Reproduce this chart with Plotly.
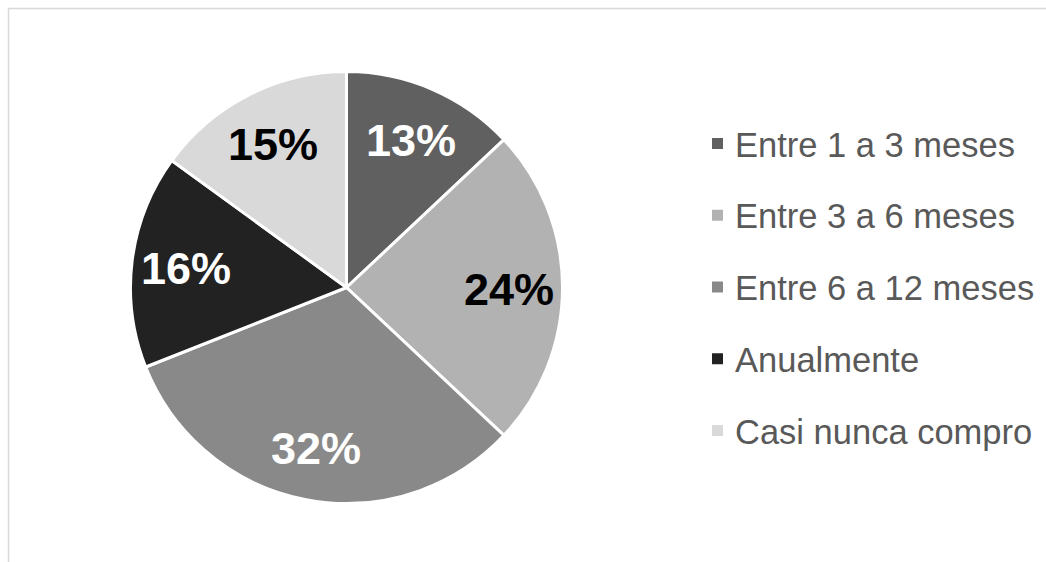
import math
import plotly.graph_objects as go

# Purchase frequency shares (percent)
categories = ["Entre 1 a 3 meses", "Entre 3 a 6 meses", "Entre 6 a 12 meses",
              "Anualmente", "Casi nunca compro"]
shares = [13, 24, 32, 16, 15]

# Grey palette and label colours per slice
slice_colors = ["#606060", "#b2b2b2", "#898989", "#222222", "#d9d9d9"]
label_colors = ["#ffffff", "#000000", "#ffffff", "#ffffff", "#000000"]

W, H = 1046, 562
cx, cy, R = 346.5, 287.5, 216  # pie centre and radius in pixels


def px(x):
    return x / W


def py(y):
    return 1 - y / H


fig = go.Figure(go.Pie(
    labels=categories,
    values=shares,
    sort=False,
    direction="clockwise",
    rotation=0,
    marker=dict(colors=slice_colors, line=dict(color="#ffffff", width=3)),
    textinfo="none",
    hoverinfo="label+percent",
    showlegend=False,
    domain=dict(x=[px(cx - R), px(cx + R)], y=[py(cy + R), py(cy - R)]),
))

# Percentage labels placed at each slice's mid angle
total = sum(shares)
cum = 0
annotations = []
label_r = 0.75 * R
for val, col in zip(shares, label_colors):
    mid = (cum + val / 2) / total * 2 * math.pi
    cum += val
    lx = cx + label_r * math.sin(mid)
    ly = cy - label_r * math.cos(mid)
    annotations.append(dict(
        x=px(lx), y=py(ly + 1.5), xref="paper", yref="paper",
        text=f"<b>{round(val / total * 100)}%</b>", showarrow=False,
        xanchor="center", yanchor="middle",
        font=dict(family="Liberation Sans, Arial", size=45, color=col),
    ))

# Legend: square swatch plus label for each category
shapes = []
leg_y0, leg_step = 143.5, 71.75
for i, (name, col) in enumerate(zip(categories, slice_colors)):
    yc = leg_y0 + i * leg_step
    shapes.append(dict(
        type="rect", xref="paper", yref="paper",
        x0=px(712), x1=px(723), y0=py(yc + 5.5), y1=py(yc - 5.5),
        fillcolor=col, line=dict(width=0),
    ))
    annotations.append(dict(
        x=px(733), y=py(yc + 1), xref="paper", yref="paper",
        text=name, showarrow=False, xanchor="left", yanchor="middle",
        font=dict(family="Liberation Sans, Arial", size=34.5, color="#595959"),
    ))

# Chart area frame
shapes.append(dict(
    type="rect", xref="paper", yref="paper",
    x0=px(8.5), x1=px(W + 20), y0=py(H + 20), y1=py(8.5),
    line=dict(color="#d9d9d9", width=1.5), fillcolor="rgba(0,0,0,0)",
    layer="below",
))

fig.update_layout(
    width=W, height=H,
    margin=dict(l=0, r=0, t=0, b=0),
    paper_bgcolor="#ffffff",
    plot_bgcolor="#ffffff",
    annotations=annotations,
    shapes=shapes,
)

fig.write_html("out.html")
